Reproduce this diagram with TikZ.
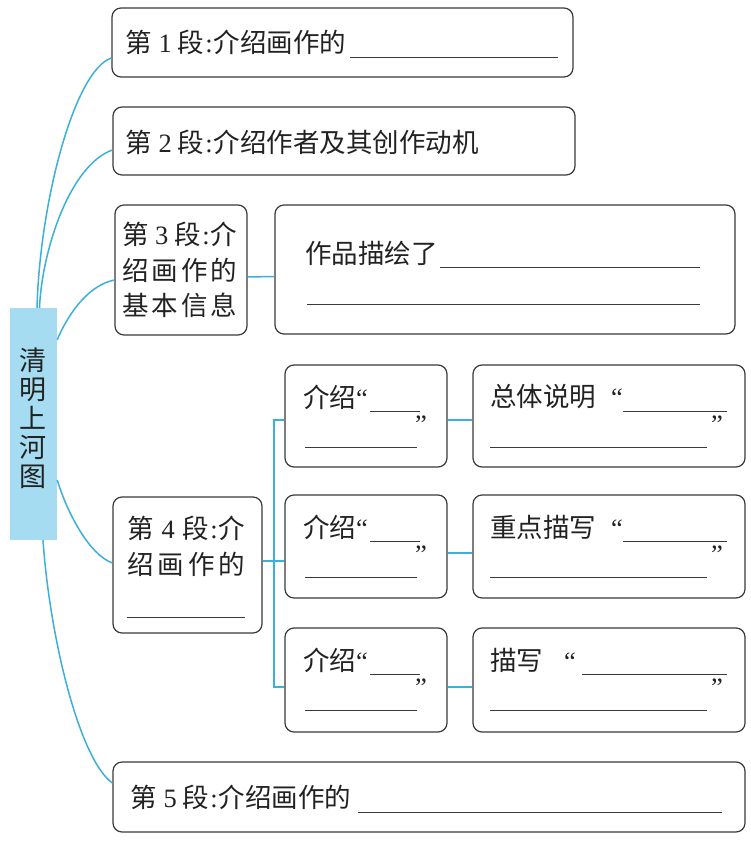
\documentclass[tikz,border=0pt]{standalone}
\usepackage{fontspec}
\setmainfont{Liberation Serif}
\newfontfamily\cjk{Noto Sans CJK SC}
\definecolor{linkblue}{HTML}{3DB0DA}
\definecolor{hubfill}{HTML}{A6DCF1}
\definecolor{boxline}{HTML}{3A3A3A}
\definecolor{ink}{HTML}{222222}
\newcommand{\nm}[1]{\hspace{7pt}{\rmfamily #1}\hspace{6pt}}
\newcommand{\cln}{\hspace{1pt}{\rmfamily :}\hspace{1pt}}
\newcommand{\lqm}{{\rmfamily “}}
\newcommand{\rqm}{{\rmfamily ”}}
\begin{document}
\begin{tikzpicture}[x=1pt,y=-1pt,
  box/.style={draw=boxline,line width=1.2pt,rounded corners=9pt,inner sep=0pt,fill=white},
  txt/.style={anchor=west,inner sep=0pt,text=ink,font=\cjk\fontsize{26.5}{30}\selectfont},
  link/.style={draw=linkblue,line width=1.5pt},
  blank/.style={draw=boxline,line width=1pt}]
\useasboundingbox[fill=white] (0,0) rectangle (751,845);

% central node
\node[fill=hubfill,minimum width=47pt,minimum height=232pt,inner sep=0pt] (hub) at (33.5,424) {};
\node[anchor=center,align=center,inner sep=0pt,text=ink,font=\cjk\fontsize{27}{29}\selectfont] (hubt) at (33,418) {清\\明\\上\\河\\图};

% boxes
\node[box,minimum width=461pt,minimum height=69pt] (b1) at (342.5,42.5) {};
\node[box,minimum width=462pt,minimum height=68pt] (b2) at (344,141) {};
\node[box,minimum width=132pt,minimum height=130pt] (b3l) at (181,270) {};
\node[box,minimum width=460pt,minimum height=129pt] (b3r) at (505,269.5) {};
\node[box,minimum width=149pt,minimum height=136pt] (b4l) at (187.5,565) {};
\node[box,minimum width=162pt,minimum height=102pt] (m1) at (366,416) {};
\node[box,minimum width=272pt,minimum height=102pt] (r1) at (609,416) {};
\node[box,minimum width=162pt,minimum height=103pt] (m2) at (366,546.5) {};
\node[box,minimum width=272pt,minimum height=103pt] (r2) at (609,546.5) {};
\node[box,minimum width=162pt,minimum height=104pt] (m3) at (366,680) {};
\node[box,minimum width=272pt,minimum height=104pt] (r3) at (609,680) {};
\node[box,minimum width=632pt,minimum height=70pt] (b5) at (429,797) {};

% hub links
\draw[link] ([xshift=3.5pt]hub.north) .. controls (40,200) and (75,70) .. ([yshift=-15.5pt]b1.west);
\draw[link] ([xshift=6pt]hub.north) .. controls (42,250) and (70,165) .. ([yshift=-9pt]b2.west);
\draw[link] ([yshift=-32pt]hub.north east) .. controls (70,310) and (90,285) .. ([yshift=-10pt]b3l.west);
\draw[link] ([yshift=-56pt]hub.east) .. controls (68,515) and (90,555) .. ([yshift=2pt]b4l.west);
\draw[link] ([xshift=9.5pt]hub.south) .. controls (50,640) and (80,760) .. ([yshift=14pt]b5.west);

% other links
\draw[link] ([yshift=-7pt]b3l.east) -- ([yshift=-7pt]b3r.west);
\coordinate (ta) at (274,420);
\coordinate (tb) at (274,687);
\draw[link] ([yshift=-4pt]m1.west) -- (ta) -- (tb) -- ([yshift=-7pt]m3.west);
\draw[link] ([yshift=4pt]b4l.east) -- ([yshift=4pt]b4l.east -| m2.west);
\draw[link] ([yshift=-4pt]m1.east) -- ([yshift=-4pt]r1.west);
\draw[link] ([yshift=-6.5pt]m2.east) -- ([yshift=-6.5pt]r2.west);
\draw[link] ([yshift=-7pt]m3.east) -- ([yshift=-7pt]r3.west);

% box 1
\node[txt] (t1) at (125,42) {第\nm{1}段\cln 介绍画作的};
\draw[blank] (350,58) -- (558,58);
% box 2
\node[txt] (t2) at (125,142) {第\nm{2}段\cln 介绍作者及其创作动机};
% box 3
\node[txt] (t3a) at (122,234) {\makebox[115pt][s]{第\hfill{\rmfamily 3}\hfill 段\cln 介}};
\node[txt] (t3b) at (122,270) {\makebox[115pt][s]{绍\hfill 画\hfill 作\hfill 的}};
\node[txt] (t3c) at (122,305) {\makebox[115pt][s]{基\hfill 本\hfill 信\hfill 息}};
\node[txt] (t3r) at (305,253) {作品描绘了};
\draw[blank] (440,267) -- (700,267);
\draw[blank] (307,304) -- (700,304);
% box 4
\node[txt] (t4a) at (127,528) {\makebox[118pt][s]{第\hfill{\rmfamily 4}\hfill 段\cln 介}};
\node[txt] (t4b) at (127,564) {\makebox[118pt][s]{绍\hfill 画\hfill 作\hfill 的}};
\draw[blank] (127,617) -- (245,617);

% middle boxes
\foreach \r/\y in {1/397,2/527,3/660}{
  \node[txt] (mt\r) at (303,\y) {介绍\lqm};
  \draw[blank] (370,\y+14) -- (420,\y+14);
  \node[txt] (mq\r) at (415,\y+28) {\rqm};
  \draw[blank] (305,\y+50) -- (417,\y+50);
  \draw[blank] (490,\y+50) -- (707,\y+50);
  \node[txt] (rq\r) at (711,\y+28) {\rqm};
}
% right boxes
\node[txt] (rt1) at (490,397) {总体说明\hspace{15pt}\lqm};
\draw[blank] (623,411) -- (727,411);
\node[txt] (rt2) at (490,527) {重点描写\hspace{15pt}\lqm};
\draw[blank] (623,541) -- (727,541);
\node[txt] (rt3) at (490,660) {描写\hspace{21pt}\lqm};
\draw[blank] (582,674) -- (727,674);

% box 5
\node[txt] (t5) at (130,797) {第\nm{5}段\cln 介绍画作的};
\draw[blank] (358,812) -- (722,812);
\end{tikzpicture}
\end{document}
